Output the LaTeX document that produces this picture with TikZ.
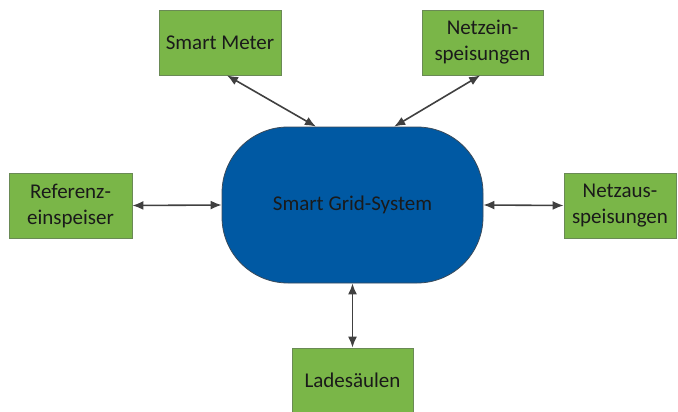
\documentclass[tikz,border=0pt]{standalone}
\usepackage{fontspec}
\setmainfont{Carlito}
\usetikzlibrary{arrows.meta}
\definecolor{boxgreen}{HTML}{7AB648}
\definecolor{boxedge}{HTML}{6A8A55}
\definecolor{gridblue}{HTML}{0059A3}
\definecolor{gridedge}{HTML}{3A4A5A}
\definecolor{arrowgray}{HTML}{404040}
\definecolor{textdark}{HTML}{1A1A1A}
\tikzset{
  greenbox/.style={draw=boxedge, line width=0.8pt, fill=boxgreen, align=center,
    inner sep=0pt, minimum height=65pt, text=textdark,
    font=\fontsize{21}{26}\selectfont},
  gridnode/.style={draw=gridedge, line width=0.8pt, fill=gridblue, rounded corners=66pt,
    minimum width=261pt, minimum height=156pt, inner sep=0pt, text=textdark,
    font=\fontsize{21}{26}\selectfont},
  link/.style={draw=arrowgray, line width=1.6pt,
    {Latex[length=11pt,width=9pt]}-{Latex[length=11pt,width=9pt]}}
}
\begin{document}
\begin{tikzpicture}[x=1pt,y=-1pt]
\useasboundingbox (0,0) rectangle (678,412);
\node[gridnode] (grid) at (352.5,205) {Smart Grid-System};
\node[greenbox, minimum width=122pt] (sm) at (220,42.5) {Smart Meter};
\node[greenbox, minimum width=121pt] (ne) at (482.5,42.5) {Netzein-\\speisungen};
\node[greenbox, minimum width=123pt] (re) at (70.5,205.5) {Referenz-\\einspeiser};
\node[greenbox, minimum width=112pt] (na) at (620,205.5) {Netzaus-\\speisungen};
\node[greenbox, minimum width=121pt, minimum height=64pt] (la) at (352.5,380) {Ladesäulen};
\draw[link] (sm.-78) -- (grid.115.7);
\draw[link] (ne.-94) -- (grid.62.6);
\draw[link] (re.east) -- (grid.west);
\draw[link] (na.west) -- (grid.east);
\draw[link] (la.north) -- (grid.south);
\end{tikzpicture}
\end{document}
